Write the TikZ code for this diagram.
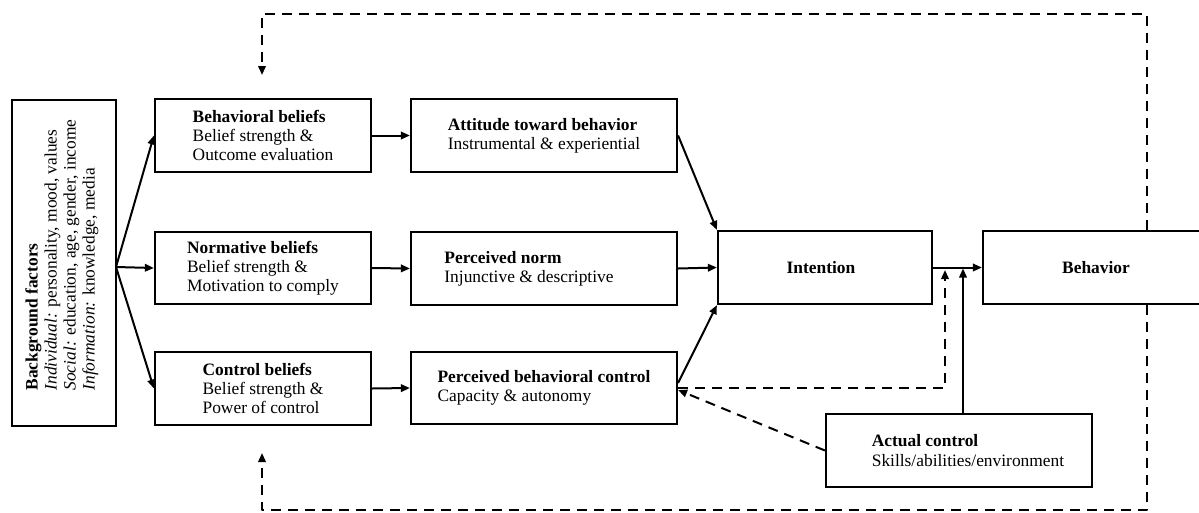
\documentclass[tikz,border=0pt]{standalone}
\usepackage{fontspec}
\setmainfont{Liberation Serif}
\usetikzlibrary{arrows.meta}
\begin{document}
\begin{tikzpicture}[x=1pt,y=-1pt,
  box/.style={draw, line width=2.2pt, inner sep=0pt, align=left,
    font=\fontsize{17.4}{19.2}\selectfont},
  lbl/.style={inner sep=0pt, align=left, font=\fontsize{17.4}{19}\selectfont},
  arr/.style={line width=2pt, -{Triangle[length=9pt,width=7.5pt]}},
  darr/.style={line width=2pt, dash pattern=on 10pt off 7pt, line join=round,
    -{Triangle[length=9pt,width=7.5pt]}}]
\useasboundingbox (0,0) rectangle (1199,512);
% boxes
\node[box, minimum width=104pt, minimum height=326pt] (bg) at (64,263) {};
\node[lbl, rotate=90] (bgtext) at (62,255) {\textbf{Background factors}\\\textit{Individual:} personality, mood, values\\\textit{Social:} education, age, gender, income\\\textit{Information:} knowledge, media};
\node[box, minimum width=216pt, minimum height=73pt] (bb) at (263,135.5) {\textbf{Behavioral beliefs}\\Belief strength \&\\Outcome evaluation};
\node[box, minimum width=216pt, minimum height=72pt] (nb) at (263,268) {\textbf{Normative beliefs}\\Belief strength \&\\Motivation to comply};
\node[box, minimum width=216pt, minimum height=73pt] (cb) at (263,388.5) {\textbf{Control beliefs}\\Belief strength \&\\Power of control};
\node[box, minimum width=266pt, minimum height=73pt] (att) at (544,135.5) {\textbf{Attitude toward behavior}\\Instrumental \& experiential};
\node[box, minimum width=266pt, minimum height=73pt] (pn) at (544,268.5) {\textbf{Perceived norm}\\Injunctive \& descriptive\hspace*{30pt}};
\node[box, minimum width=266pt, minimum height=72pt] (pbc) at (544,388) {\textbf{Perceived behavioral control}\\Capacity \& autonomy};
\node[box, minimum width=214pt, minimum height=73pt] (int) at (825,267.5) {\textbf{Intention}\hspace*{8pt}};
\node[box, minimum width=226pt, minimum height=73pt] (beh) at (1096,267.5) {\textbf{Behavior}};
\node[box, minimum width=266pt, minimum height=73pt] (ac) at (959,450.5) {\hspace*{18pt}\textbf{Actual control}\\\hspace*{18pt}Skills/abilities/environment};
% coordinates
\coordinate (split) at (116,267);
\coordinate (mod) at (945,270);
\coordinate (fbtop) at (1147,14);
\coordinate (fbbot) at (1147,510);
\coordinate (tgtop) at (262,75);
\coordinate (tgbot) at (262,453);
% solid arrows
\draw[arr] (split) -- (bb.west);
\draw[arr] (split) -- (nb.west);
\draw[arr] (split) -- (cb.west);
\draw[arr] (bb.east) -- (att.west);
\draw[arr] (nb.east) -- (pn.west);
\draw[arr] (cb.east) -- (pbc.west);
\draw[arr] (att.east) -- (int.north west);
\draw[arr] (pn.east) -- (int.west);
\draw[arr] ([yshift=5pt]pbc.east) -- (int.south west);
\draw[arr] (int.east) -- (beh.west);
\draw[arr] ([xshift=4pt]ac.north) -- ([xshift=4pt,yshift=-1pt]ac.north |- int.east);
% dashed
\draw[darr] (pbc.east) -- (mod |- pbc.east) -- (mod);
\draw[darr] (ac.west) -- ([yshift=-2pt]pbc.east);
\draw[darr] (beh.north -| fbtop) -- (fbtop) -- (fbtop -| tgtop) -- (tgtop);
\draw[darr] (beh.south -| fbbot) -- (fbbot) -- (fbbot -| tgbot) -- (tgbot);
\end{tikzpicture}
\end{document}
